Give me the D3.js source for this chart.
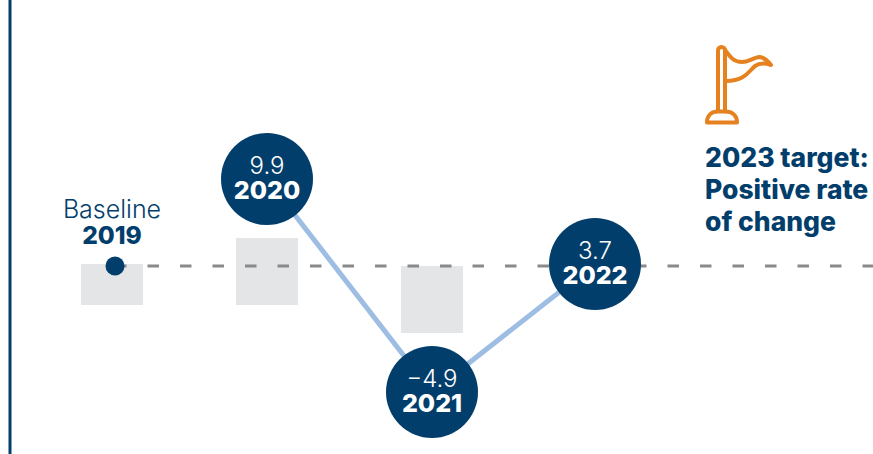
<!DOCTYPE html>
<html>
<head>
<meta charset="utf-8">
<script src="https://cdn.jsdelivr.net/npm/d3@7/dist/d3.min.js"></script>
<style>
  html, body { margin: 0; padding: 0; background: #fff; overflow: hidden; }
  svg { display: block; }
  text { font-family: Inter, "Open Sans", sans-serif; }
</style>
</head>
<body>
<div id="chart"></div>
<script>
var width = 873, height = 454;

// values as printed on the markers
var years = [2019, 2020, 2021, 2022];
var rates = [null, "9.9", "\u22124.9", "3.7"];
// the markers are not to scale with their labels, so heights are read off the picture
var levels = [0, 8.7, -12.6, 0.2];

// grey boxes behind the markers
var boxYears = [2019, 2020, 2021];
var boxTops = [0.2, 2.8, 0];
var boxBottoms = [-3.9, -3.9, -6.7];

var targetLines = ["2023 target:", "Positive rate", "of change"];

var navy = "#023e6b", orange = "#e5811e";

var svg = d3.select("#chart")
    .append("svg")
    .attr("width", width)
    .attr("height", height);

// years are not evenly spaced on the original
var x = d3.scaleLinear()
    .domain(years)
    .range([115, 267, 432, 595]);

var y = d3.scaleLinear()
    .domain([0, 1])
    .range([266, 256]);

// left rule
svg.append("line")
    .attr("x1", 10).attr("x2", 10)
    .attr("y1", 0).attr("y2", height)
    .style("stroke", navy)
    .style("stroke-width", 3);

// grey boxes
svg.selectAll(".box")
    .data(boxYears)
    .enter()
    .append("rect")
    .attr("class", "box")
    .attr("x", d => x(d) + (d == 2019 ? -34 : -31))
    .attr("width", 62)
    .attr("y", (d, i) => y(boxTops[i]))
    .attr("height", (d, i) => y(boxBottoms[i]) - y(boxTops[i]))
    .style("fill", "#e4e5e7");

// zero line
svg.append("line")
    .attr("x1", x(2019)).attr("x2", width)
    .attr("y1", y(0)).attr("y2", y(0))
    .style("stroke", "#8a8a8c")
    .style("stroke-width", 3)
    .style("stroke-dasharray", "11.5 21");

// connecting line, starts at 2020
var line = d3.line()
    .x(d => x(d.year))
    .y(d => y(d.level));

svg.append("path")
    .datum(years.map((d, i) => ({year: d, level: levels[i]})).slice(1))
    .attr("d", line)
    .style("fill", "none")
    .style("stroke", "#9dbde3")
    .style("stroke-width", 5);

// baseline dot
svg.append("circle")
    .attr("cx", x(2019))
    .attr("cy", y(levels[0]))
    .attr("r", 9.5)
    .style("fill", navy);

svg.append("text")
    .attr("x", x(2019) - 3)
    .attr("y", 218)
    .attr("text-anchor", "middle")
    .style("font-size", "25px")
    .style("font-weight", 300)
    .style("fill", navy)
    .text("Baseline");

svg.append("text")
    .attr("x", x(2019) - 3)
    .attr("y", 244)
    .attr("text-anchor", "middle")
    .style("font-size", "24.5px")
    .style("font-weight", 800)
    .style("fill", navy)
    .text(years[0]);

// year bubbles
var bubbles = svg.selectAll(".bubble")
    .data(years.slice(1))
    .enter()
    .append("g")
    .attr("class", "bubble")
    .attr("transform", (d, i) => "translate(" + x(d) + "," + y(levels[i + 1]) + ")");

bubbles.append("circle")
    .attr("r", 46)
    .style("fill", navy);

bubbles.append("text")
    .attr("y", -5)
    .attr("text-anchor", "middle")
    .style("font-size", "24px")
    .style("font-weight", 300)
    .style("fill", "#fff")
    .text((d, i) => rates[i + 1]);

bubbles.append("text")
    .attr("y", 20)
    .attr("text-anchor", "middle")
    .style("font-size", "25px")
    .style("font-weight", 800)
    .style("fill", "#fff")
    .text(d => d);

// flag icon
var flag = svg.append("g")
    .style("fill", "none")
    .style("stroke", orange)
    .style("stroke-width", 4)
    .style("stroke-linejoin", "round")
    .style("stroke-linecap", "round");

flag.append("path")
    .attr("d", "M718,111V50.5a3.5,3.5 0 0 1 7,0V111");
flag.append("path")
    .attr("d", "M707,122.5C707,115 712,111.5 718,111.5H725C732,111.5 737,115 737,122.5Z");
flag.append("path")
    .attr("d", "M725,50C731,58 734,62 742,62C749,62 752,58 759,57C764,57 768,61 771,65C765,63 760,62.5 755,66C749,71 745,81 726,81");

// target text
svg.selectAll(".target")
    .data(targetLines)
    .enter()
    .append("text")
    .attr("class", "target")
    .attr("x", 705)
    .attr("y", (d, i) => 167 + i * 32)
    .style("font-size", "26.5px")
    .style("font-weight", 800)
    .style("fill", navy)
    .text(d => d);
</script>
</body>
</html>
